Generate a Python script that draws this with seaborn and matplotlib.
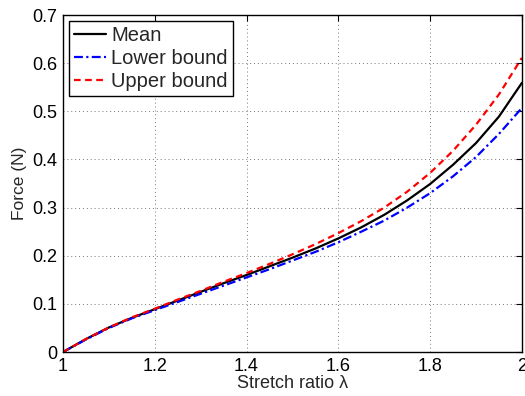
import numpy as np
import pandas as pd
import matplotlib
matplotlib.use("Agg")
import matplotlib.pyplot as plt
import seaborn as sns

stretch = [1.00, 1.05, 1.10, 1.15, 1.20, 1.25, 1.30, 1.35, 1.40, 1.45, 1.50,
           1.55, 1.60, 1.65, 1.70, 1.75, 1.80, 1.85, 1.90, 1.95, 2.00]
mean_force = [0.000, 0.027, 0.051, 0.071, 0.089, 0.107, 0.125, 0.143, 0.160, 0.178, 0.196,
              0.215, 0.236, 0.259, 0.285, 0.315, 0.349, 0.389, 0.434, 0.489, 0.559]
lower_force = [0.000, 0.026, 0.050, 0.070, 0.087, 0.104, 0.121, 0.138, 0.155, 0.172, 0.190,
               0.208, 0.228, 0.250, 0.273, 0.300, 0.330, 0.365, 0.405, 0.453, 0.507]
upper_force = [0.000, 0.027, 0.051, 0.072, 0.090, 0.109, 0.127, 0.146, 0.164, 0.183, 0.203,
               0.224, 0.247, 0.272, 0.300, 0.333, 0.372, 0.418, 0.472, 0.535, 0.611]
series_names = ["Mean", "Lower bound", "Upper bound"]
x_ticks = [1, 1.2, 1.4, 1.6, 1.8, 2]
x_tick_labels = ["1", "1.2", "1.4", "1.6", "1.8", "2"]
y_ticks = [0, 0.1, 0.2, 0.3, 0.4, 0.5, 0.6, 0.7]
y_tick_labels = ["0", "0.1", "0.2", "0.3", "0.4", "0.5", "0.6", "0.7"]

sns.set_style("white")
plt.rcParams['font.family'] = ['Liberation Sans', 'DejaVu Sans']

df = pd.concat([
    pd.DataFrame({"x": stretch, "y": mean_force, "s": series_names[0]}),
    pd.DataFrame({"x": stretch, "y": lower_force, "s": series_names[1]}),
    pd.DataFrame({"x": stretch, "y": upper_force, "s": series_names[2]}),
])

fig = plt.figure(figsize=(5.25, 3.96), dpi=100)
ax = fig.add_axes([0.12, 0.111, 0.874, 0.851])

palette = {"Mean": "black", "Lower bound": "blue", "Upper bound": "red"}
dashes = {"Mean": "", "Lower bound": (4, 1.5, 1, 1.5), "Upper bound": (3, 2)}
sns.lineplot(data=df, x="x", y="y", hue="s", style="s", palette=palette,
             dashes=dashes, linewidth=1.6, ax=ax, legend=True)

ax.set_xlim(1, 2)
ax.set_ylim(0, 0.7)
ax.set_xticks(x_ticks)
ax.set_xticklabels(x_tick_labels)
ax.set_yticks(y_ticks)
ax.set_yticklabels(y_tick_labels)
ax.tick_params(direction="in", top=True, right=True, length=4, width=0.8,
               labelsize=13, colors="black", pad=4)
ax.grid(True, linestyle=(0, (1, 3)), color="#777777", linewidth=0.7)
for sp in ax.spines.values():
    sp.set_visible(True)
    sp.set_color("black")
    sp.set_linewidth(1.0)

ax.set_xlabel("Stretch ratio λ", fontsize=13, labelpad=0)
ax.set_ylabel("Force (N)", fontsize=12.5, labelpad=4)

leg = ax.legend(loc="upper left", fontsize=14.5, frameon=True, fancybox=False,
                edgecolor="black", borderpad=0.25, labelspacing=0.2,
                handlelength=1.6, handletextpad=0.25, borderaxespad=0.3)
leg.get_frame().set_linewidth(1.0)
leg.get_frame().set_alpha(1)

fig.savefig("out.png", dpi=100)
